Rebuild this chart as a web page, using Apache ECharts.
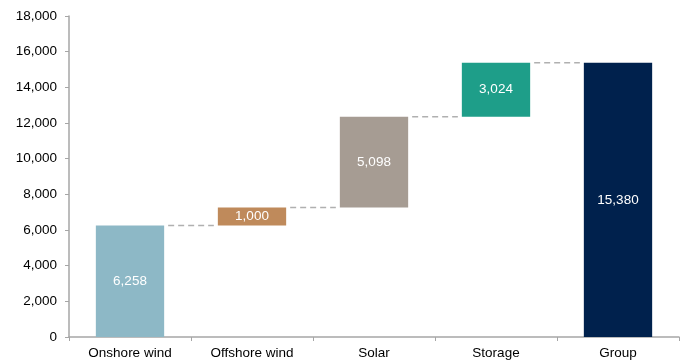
<!DOCTYPE html>
<html>
<head>
<meta charset="utf-8">
<script src="https://cdn.jsdelivr.net/npm/echarts@6/dist/echarts.min.js"></script>
<style>
  html,body{margin:0;padding:0;background:#fff;}
  #chart{width:686px;height:363px;}
</style>
</head>
<body>
<div id="chart"></div>
<script>
  var categories = ['Onshore wind', 'Offshore wind', 'Solar', 'Storage', 'Group'];
  var values = [6258, 1000, 5098, 3024, 15380];
  var isTotal = [false, false, false, false, true];
  var colors = ['#8db8c6', '#bf8a5b', '#a69c93', '#1e9e89', '#00214d'];

  // running base for the waterfall
  var base = [];
  var tops = [];
  var sum = 0;
  for (var i = 0; i < values.length; i++) {
    if (isTotal[i]) {
      base.push(0);
    } else {
      base.push(sum);
      sum += values[i];
    }
    tops.push(base[i] + values[i]);
  }
  var links = [];
  for (var i = 0; i < values.length - 1; i++) {
    links.push([i, tops[i]]);
  }
  var barRatio = 0.56;

  var chart = echarts.init(document.getElementById('chart'));
  var option = {
    animation: false,
    textStyle: { fontFamily: 'Liberation Sans, Arial, sans-serif' },
    grid: { left: 69, right: 7, top: 16, bottom: 26 },
    xAxis: {
      type: 'category',
      data: categories,
      axisLine: { lineStyle: { color: '#a6a6a6', width: 1.5 } },
      axisTick: { show: true, length: 4, lineStyle: { color: '#a6a6a6' } },
      axisLabel: { color: '#000', fontSize: 13.5, margin: 9 }
    },
    yAxis: {
      type: 'value',
      min: 0, max: 18000, interval: 2000,
      splitLine: { show: false },
      axisLine: { show: true, lineStyle: { color: '#a6a6a6', width: 1.5 } },
      axisTick: { show: true, length: 4, lineStyle: { color: '#a6a6a6' } },
      axisLabel: {
        color: '#000', fontSize: 13.5, margin: 12,
        formatter: function (v) { return v.toLocaleString('en-US'); }
      }
    },
    series: [
      {
        type: 'bar',
        stack: 'wf',
        barWidth: (barRatio * 100) + '%',
        itemStyle: { color: 'transparent' },
        silent: true,
        data: base
      },
      {
        type: 'bar',
        stack: 'wf',
        barWidth: (barRatio * 100) + '%',
        data: values.map(function (v, i) {
          return { value: v, itemStyle: { color: colors[i] } };
        }),
        label: {
          show: true,
          position: 'inside',
          color: '#fff',
          fontSize: 13.5,
          formatter: function (p) { return p.value.toLocaleString('en-US'); }
        }
      },
      {
        type: 'custom',
        silent: true,
        data: links,
        renderItem: function (params, api) {
          var i = api.value(0);
          var v = api.value(1);
          var a = api.coord([i, v]);
          var b = api.coord([i + 1, v]);
          var half = api.size([1, 0])[0] * barRatio / 2;
          return {
            type: 'line',
            shape: { x1: a[0] + half + 4, y1: a[1], x2: b[0] - half - 4, y2: b[1] },
            style: { stroke: '#b0b0b0', lineWidth: 1.5, lineDash: [6, 4] }
          };
        }
      }
    ]
  };
  chart.setOption(option);
</script>
</body>
</html>
